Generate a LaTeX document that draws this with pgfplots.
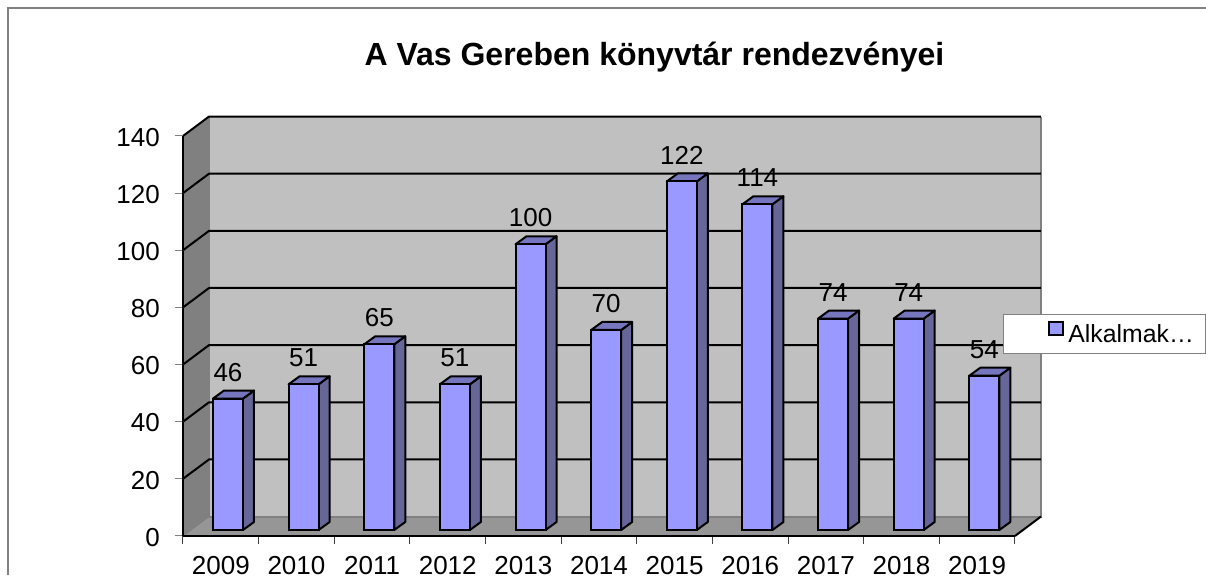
\documentclass[border=0pt]{standalone}
\usepackage{fontspec}
\setmainfont{Liberation Sans}
\usepackage{pgfplots}
\usepackage{pgfplotstable}
\pgfplotsset{compat=1.18}

\definecolor{barfront}{HTML}{9999FF}
\definecolor{barside}{HTML}{666699}
\definecolor{bartop}{HTML}{7676BF}
\definecolor{wallback}{HTML}{C0C0C0}
\definecolor{wallside}{HTML}{808080}
\definecolor{wallfloor}{HTML}{969696}

% x is the middle of the front face of the bar, categories are 1 wide
\pgfplotstableread{
x     v
0.595 46
1.595 51
2.595 65
3.595 51
4.595 100
5.595 70
6.595 122
7.595 114
8.595 74
9.595 74
10.595 54
}\bars

\newcommand{\bigtext}{\fontsize{19.5}{19.5}\selectfont}

\begin{document}
\begin{tikzpicture}
% page = 1206x575 px, 1 px = 0.75pt, axis corner at px (183,536)
\begin{scope}[shift={(-137.25pt,402pt)},x=0.75pt,y=-0.75pt]
  \path[use as bounding box] (0,0) rectangle (1206,575);
  \draw[wallside,line width=0.9pt] (8,575) -- (8,8) -- (1206,8);
\end{scope}
\begin{axis}[
    at={(0,0)},anchor=south west,
    scale only axis,
    width=624pt,height=300pt,
    xmin=0,xmax=11,ymin=0,ymax=140,
    clip=false,
    axis on top,
    axis x line*=bottom,axis y line*=left,
    axis line style={black,line width=1.5pt,-},
    ytick={0,20,...,140},
    xtick={0.5,1.5,...,10.5},
    xticklabels={2009,2010,2011,2012,2013,2014,2015,2016,2017,2018,2019},
    minor xtick={0,1,...,11},
    major x tick style={draw=none},
    minor x tick style={draw=black!75,line width=0.75pt},
    minor tick length=6pt,
    major y tick style={draw=wallside,line width=0.75pt},
    major tick length=6pt,
    tick align=outside,
    /pgf/number format/assume math mode=true,
    tick label style={font=\bigtext},
    y tick label style={inner sep=0pt,xshift=-11.25pt,yshift=-1pt},
    x tick label style={inner sep=0pt,anchor=base,yshift=-23.25pt},
    title={A Vas Gereben könyvtár rendezvényei},
    title style={at={(0.5667,1.1775)},anchor=center,font=\fontsize{24}{24}\selectfont\bfseries,inner sep=0pt},
    legend style={at={(1.2296,0.555)},anchor=north east,draw=wallside,line width=0.75pt,fill=white,
      inner xsep=0pt,inner ysep=4.75pt,font=\fontsize{18.6}{18.6}\selectfont,
      cells={anchor=west,inner xsep=3pt}},
    legend image code/.code={
      \path[draw=none,fill=none] (-34.75pt,0pt) -- (12.25pt,0pt);
      \draw[black,line width=1.5pt,fill=barfront] (-0.5pt,-5pt) rectangle (10pt,5pt);
    },
    barface/.style={draw=black,line width=1.5pt,line join=round,yshift=4.5pt,forget plot},
]
% walls and floor
\addplot[fill=wallside,draw=none,forget plot] coordinates {(0,0) (0.3437,6.8) (0.3437,146.8) (0,140)} --cycle;
\addplot[fill=wallback,draw=none,forget plot] coordinates {(0.3437,6.8) (11.3437,6.8) (11.3437,146.8) (0.3437,146.8)} --cycle;
\addplot[fill=wallfloor,draw=none,forget plot] coordinates {(0,0) (11,0) (11.3437,6.8) (0.3437,6.8)} --cycle;
\addplot[draw=wallside,line width=1.5pt,forget plot] coordinates {(0.3437,146.8) (0.3437,6.8) (11.3437,6.8) (11.3437,146.8)};
\addplot[draw=wallside,line width=0.75pt,forget plot] coordinates {(0,0) (0.3437,6.8)};
\addplot[draw=black,line width=1.5pt,forget plot] coordinates {(11,0) (11.3437,6.8)};
% gridlines
\pgfplotsinvokeforeach{20,40,60,80,100,120,140}{
  \addplot[draw=black,line width=1.5pt,forget plot] coordinates {(0,#1) (0.3437,#1+6.8) (11.3437,#1+6.8)};
}
% side and top of the bars
\pgfplotsinvokeforeach{0,...,10}{
  \pgfplotstablegetelem{#1}{x}\of\bars \let\cx\pgfplotsretval
  \pgfplotstablegetelem{#1}{v}\of\bars \let\cv\pgfplotsretval
  \pgfmathsetmacro\xa{\cx-0.1983}
  \pgfmathsetmacro\xb{\cx+0.1983}
  \pgfmathsetmacro\xc{\xb+0.1454}
  \pgfmathsetmacro\xd{\xa+0.1454}
  \pgfmathsetmacro\yt{\cv+2.8}
  \edef\cmd{\noexpand\addplot[barface,fill=barside] coordinates {(\xb,0) (\xc,2.8) (\xc,\yt) (\xb,\cv)} --cycle;
    \noexpand\addplot[barface,fill=bartop] coordinates {(\xa,\cv) (\xb,\cv) (\xc,\yt) (\xd,\yt)} --cycle;}
  \cmd
}
% front of the bars
\addplot[ybar,bar width=22.5pt,bar shift=0pt,fill=barfront,draw=black,line width=1.5pt,yshift=4.5pt,
    nodes near coords,
    nodes near coords style={font=\bigtext,anchor=center,yshift=19.75pt,inner sep=0pt,text=black}]
    table[x=x,y=v] {\bars};
\addlegendentry{Alkalmak…\rule{6.75pt}{0pt}}
\end{axis}
\end{tikzpicture}
\end{document}
